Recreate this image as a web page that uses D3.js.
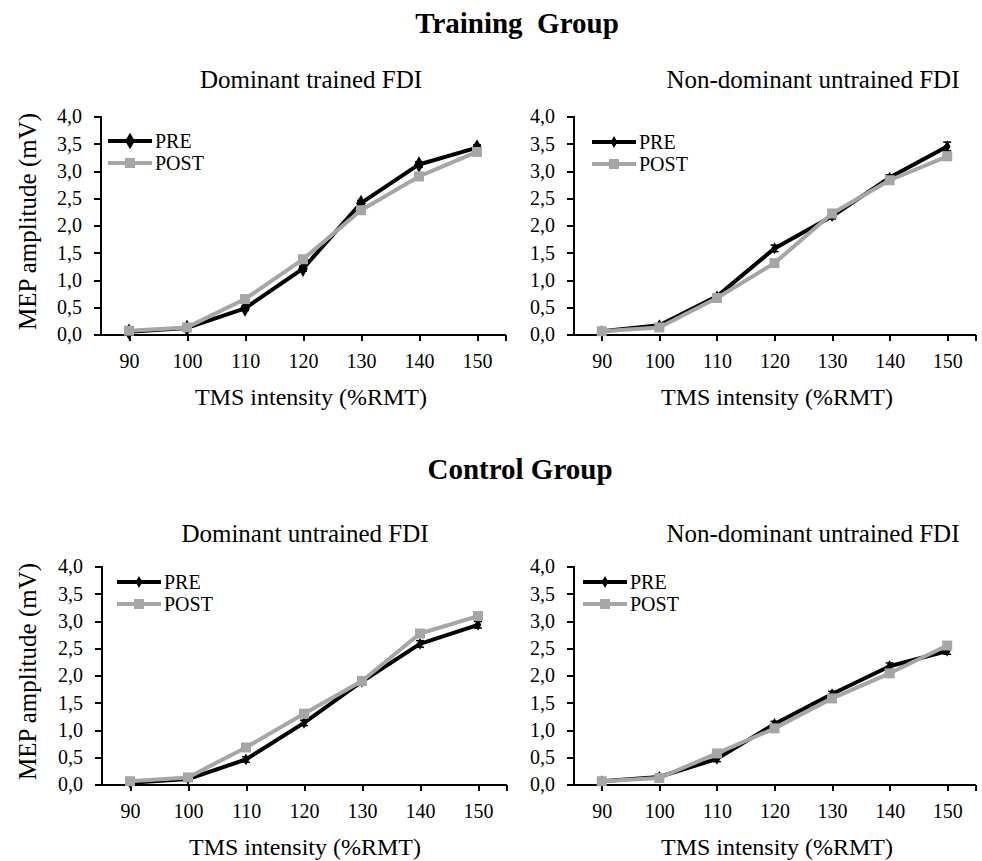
<!DOCTYPE html>
<meta charset="utf-8">
<style>
body { margin: 0; background: #fff; }
svg text { font-family: "Liberation Serif", "Times New Roman", serif; fill: #000; }
.axis path, .axis line { stroke: #000; stroke-width: 2px; shape-rendering: crispEdges; }
.axis text { font-size: 20px; }
</style>
<svg width="982" height="861"></svg>
<script src="https://cdn.jsdelivr.net/npm/d3@7"></script>
<script>

// TMS intensities (%RMT)
var categories = [90, 100, 110, 120, 130, 140, 150];
var yTicks = [0, 0.5, 1, 1.5, 2, 2.5, 3, 3.5, 4];
var seriesNames = ["PRE", "POST"];

// Training group, dominant trained FDI
var trainDomPre  = [0.05, 0.12, 0.48, 1.21, 2.41, 3.12, 3.43];
var trainDomPost = [0.07, 0.13, 0.65, 1.38, 2.28, 2.90, 3.35];
var trainDomErr  = [0.02, 0.02, 0.04, 0.05, 0.05, 0.05, 0.05];
// Training group, non-dominant untrained FDI
var trainNonPre  = [0.06, 0.17, 0.70, 1.58, 2.17, 2.88, 3.45];
var trainNonPost = [0.06, 0.13, 0.67, 1.31, 2.22, 2.83, 3.27];
var trainNonErr  = [0.02, 0.02, 0.04, 0.06, 0.05, 0.05, 0.08];
// Control group, dominant untrained FDI
var ctrlDomPre   = [0.03, 0.10, 0.46, 1.13, 1.89, 2.58, 2.93];
var ctrlDomPost  = [0.06, 0.13, 0.68, 1.30, 1.90, 2.77, 3.09];
var ctrlDomErr   = [0.02, 0.02, 0.05, 0.05, 0.05, 0.06, 0.06];
// Control group, non-dominant untrained FDI
var ctrlNonPre   = [0.06, 0.14, 0.47, 1.11, 1.66, 2.17, 2.45];
var ctrlNonPost  = [0.06, 0.12, 0.57, 1.03, 1.58, 2.04, 2.55];
var ctrlNonErr   = [0.02, 0.02, 0.05, 0.05, 0.05, 0.06, 0.06];

var panels = [
  {title: "Dominant trained FDI", pre: trainDomPre, post: trainDomPost, err: trainDomErr,
   x0: 100, w: 406, top: 116.5, bottom: 334.5, titleX: 311, titleY: 88, axisTitleX: 311, legX: 108, legY: 141, bigPre: true},
  {title: "Non-dominant untrained FDI", pre: trainNonPre, post: trainNonPost, err: trainNonErr,
   x0: 573, w: 403, top: 116.5, bottom: 334.5, titleX: 813, titleY: 88, axisTitleX: 777, legX: 592, legY: 142, bigPre: false},
  {title: "Dominant untrained FDI", pre: ctrlDomPre, post: ctrlDomPost, err: ctrlDomErr,
   x0: 101, w: 406, top: 566.5, bottom: 784.5, titleX: 305, titleY: 542, axisTitleX: 305, legX: 117, legY: 582, bigPre: false},
  {title: "Non-dominant untrained FDI", pre: ctrlNonPre, post: ctrlNonPost, err: ctrlNonErr,
   x0: 573, w: 403, top: 566.5, bottom: 784.5, titleX: 813, titleY: 542, axisTitleX: 777, legX: 583, legY: 582, bigPre: false}
];

var svg = d3.select("svg");
var fmt = function(d) { return d3.format(".1f")(d).replace(".", ","); };
var preColor = "#000", postColor = "#a6a6a6";

svg.append("text").attr("x", 517).attr("y", 33).attr("text-anchor", "middle")
    .style("font-size", "29px").style("font-weight", "bold").attr("xml:space", "preserve")
    .text("Training  Group");
svg.append("text").attr("x", 520).attr("y", 479).attr("text-anchor", "middle")
    .style("font-size", "29px").style("font-weight", "bold")
    .text("Control Group");

panels.forEach(function(p, i) {
  var x = d3.scalePoint().domain(categories).range([p.x0, p.x0 + p.w]).padding(0.5);
  var y = d3.scaleLinear().domain([0, 4]).range([p.bottom, p.top]);
  var g = svg.append("g");

  g.append("text").attr("x", p.titleX).attr("y", p.titleY).attr("text-anchor", "middle")
      .style("font-size", "25px").text(p.title);

  // y axis
  g.append("g").attr("class", "axis")
      .attr("transform", "translate(" + p.x0 + ",0)")
      .call(d3.axisLeft(y).tickValues(yTicks).tickFormat(fmt).tickSizeOuter(0).tickSize(6).tickPadding(12));

  // x axis, ticks at category points and at the right end
  var xa = g.append("g").attr("class", "axis")
      .attr("transform", "translate(0," + p.bottom + ")")
      .call(d3.axisBottom(x).tickSizeOuter(0).tickSize(6).tickPadding(10));
  xa.select(".domain").attr("d", "M" + p.x0 + ",0H" + (p.x0 + p.w));
  xa.append("line").attr("x1", p.x0 + p.w).attr("x2", p.x0 + p.w).attr("y1", 0).attr("y2", 6);
  xa.selectAll(".tick text").attr("dy", "0.85em");

  g.append("text").attr("x", p.axisTitleX).attr("y", p.bottom + 70).attr("text-anchor", "middle")
      .style("font-size", "24px").text("TMS intensity (%RMT)");

  if (i % 2 === 0) {
    g.append("text")
        .attr("transform", "translate(36," + ((p.top + p.bottom) / 2 - 4) + ") rotate(-90)")
        .attr("text-anchor", "middle").style("font-size", "25px")
        .text("MEP amplitude (mV)");
  }

  var line = d3.line().x(function(d, j) { return x(categories[j]); }).y(function(d) { return y(d); });
  var diamond = d3.symbol().type(d3.symbolDiamond).size(p.bigPre ? 80 : 40);

  // PRE series with error bars
  var errG = g.append("g").attr("stroke", preColor).attr("stroke-width", 1.5);
  p.pre.forEach(function(v, j) {
    var cx = x(categories[j]);
    errG.append("line").attr("x1", cx).attr("x2", cx).attr("y1", y(v - p.err[j])).attr("y2", y(v + p.err[j]));
    errG.append("line").attr("x1", cx - 4).attr("x2", cx + 4).attr("y1", y(v + p.err[j])).attr("y2", y(v + p.err[j]));
    errG.append("line").attr("x1", cx - 4).attr("x2", cx + 4).attr("y1", y(v - p.err[j])).attr("y2", y(v - p.err[j]));
  });
  g.append("path").attr("d", line(p.pre)).attr("fill", "none")
      .attr("stroke", preColor).attr("stroke-width", 4).attr("stroke-linejoin", "round");
  g.selectAll(".pre").data(p.pre).enter().append("path")
      .attr("transform", function(d, j) { return "translate(" + x(categories[j]) + "," + y(d) + ")"; })
      .attr("d", diamond).attr("fill", preColor);

  // POST series
  g.append("path").attr("d", line(p.post)).attr("fill", "none")
      .attr("stroke", postColor).attr("stroke-width", 4).attr("stroke-linejoin", "round");
  g.selectAll(".post").data(p.post).enter().append("rect")
      .attr("x", function(d, j) { return x(categories[j]) - 5; })
      .attr("y", function(d) { return y(d) - 5; })
      .attr("width", 10).attr("height", 10).attr("fill", postColor);

  // legend
  seriesNames.forEach(function(name, k) {
    var ly = p.legY + k * 22;
    var col = k === 0 ? preColor : postColor;
    g.append("line").attr("x1", p.legX).attr("x2", p.legX + 44).attr("y1", ly).attr("y2", ly)
        .attr("stroke", col).attr("stroke-width", 4);
    if (k === 0) {
      g.append("path").attr("transform", "translate(" + (p.legX + 22) + "," + ly + ")")
          .attr("d", diamond).attr("fill", col);
    } else {
      g.append("rect").attr("x", p.legX + 17).attr("y", ly - 5).attr("width", 10).attr("height", 10)
          .attr("fill", col);
    }
    g.append("text").attr("x", p.legX + 47).attr("y", ly + 7).style("font-size", "20px").text(name);
  });
});

</script>
